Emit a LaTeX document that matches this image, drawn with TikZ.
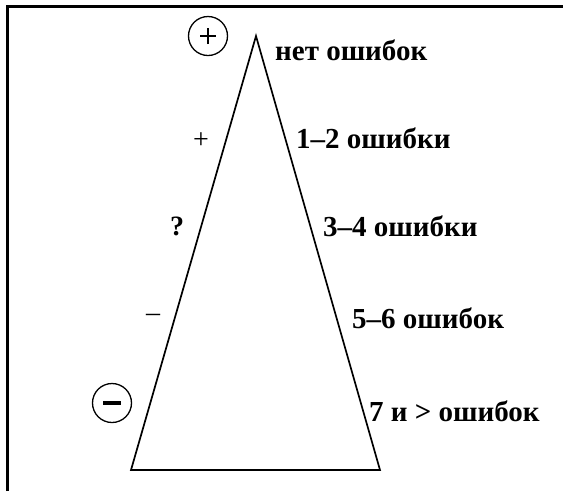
\documentclass[tikz,border=0pt]{standalone}
\usepackage{fontspec}
\setmainfont{Liberation Serif}
\begin{document}
\begin{tikzpicture}[x=1pt,y=-1pt,
  lab/.style={font=\fontsize{29}{29}\selectfont\bfseries, anchor=base west, inner sep=0pt},
  sym/.style={font=\fontsize{28}{28}\selectfont, inner sep=0pt},
  ringmark/.style={circle, draw, line width=1.3pt, minimum size=39pt, inner sep=0pt}]
\useasboundingbox (0,0) rectangle (563,491);
\draw[line width=3pt] (7,491) -- (7,6) -- (563,6);
\coordinate (A) at (256,36);
\coordinate (B) at (131,470);
\coordinate (C) at (380,470);
\draw[line width=1.7pt, line join=miter] (A) -- (B) -- (C) -- cycle;
\node[ringmark] (p) at (208,36) {};
\draw[line width=1.2pt] ([xshift=-8pt]p.center) -- ([xshift=8pt]p.center);
\draw[line width=1.2pt] ([yshift=-8pt]p.center) -- ([yshift=8pt]p.center);
\node[ringmark] (m) at (112,403) {};
\draw[line width=4pt] ([xshift=-9pt]m.center) -- ([xshift=9pt]m.center);
\node[lab] (t0) at (275,60) {нет ошибок};
\node[lab] (t1) at (296,148) {1–2 ошибки};
\node[lab] (t2) at (323,236) {3–4 ошибки};
\node[lab] (t3) at (352,328) {5–6 ошибок};
\node[lab] (t4) at (369,421) {7 и > ошибок};
\node[sym] (s1) at (201,141) {+};
\node[sym,font=\fontsize{28}{28}\selectfont\bfseries] (s2) at (177,226) {?};
\node[sym] (s3) at (153,318) {–};
\end{tikzpicture}
\end{document}
